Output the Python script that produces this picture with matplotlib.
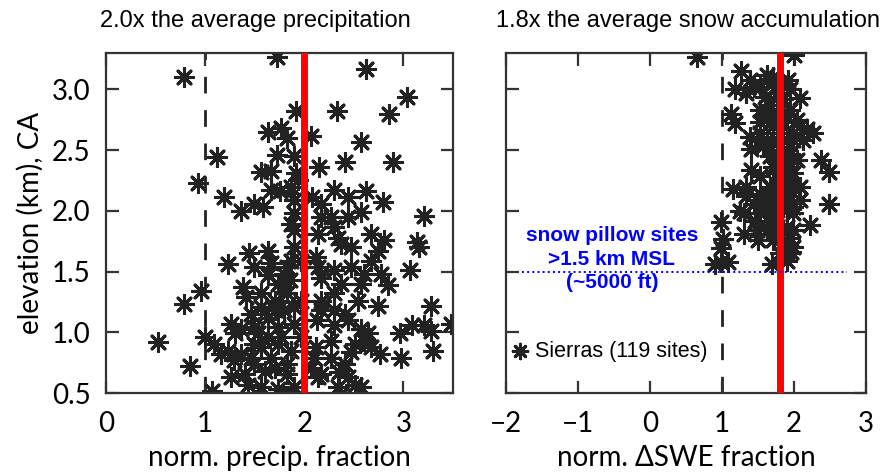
import matplotlib
matplotlib.use("Agg")
import matplotlib.pyplot as plt

# -------------------------------
# DATA
# -------------------------------
# left panel: normalised precipitation fraction vs station elevation (km)
precip_x = [
    1.72, 0.79, 2.62, 3.04, 2.33, 2.85, 1.92, 2.07, 1.63, 1.76, 1.83, 2.57,
    1.12, 1.72, 1.90, 2.41, 2.89, 2.15, 0.93, 1.56, 1.66, 1.92, 1.66, 1.75,
    1.19, 1.36, 1.49, 1.58, 2.30, 2.44, 2.62, 2.57, 2.79, 3.21, 2.08, 2.17,
    1.90, 1.87, 2.30, 2.67, 2.80, 3.14, 3.16, 2.74, 2.14, 2.37, 1.90, 2.12,
    1.63, 1.44, 1.23, 1.49, 3.07, 1.83, 1.80, 2.14, 2.30, 2.47, 2.77, 1.63,
    1.86, 2.17, 2.37, 2.57, 2.84, 1.38, 1.41, 1.56, 0.96, 0.79, 1.70, 1.83,
    1.97, 2.54, 2.74, 3.28, 1.80, 1.63, 2.17, 2.30, 2.41, 3.48, 1.26, 1.36,
    1.49, 1.73, 1.90, 2.13, 2.30, 2.44, 2.57, 2.64, 3.09, 3.21, 2.96, 3.28,
    0.52, 1.00, 1.09, 1.23, 1.36, 1.56, 1.73, 1.87, 2.12, 2.27, 2.51, 2.47,
    2.67, 2.76, 3.30, 2.98, 0.85, 1.29, 1.49, 1.70, 1.83, 2.07, 2.17, 2.35,
    1.26, 1.43, 1.56, 1.73, 1.77, 1.90, 1.07, 2.34, 2.37, 2.51, 2.57, 2.44,
    2.14, 2.60, 1.90, 1.87, 1.94, 1.90, 1.87, 1.97, 1.80, 1.90, 1.76, 1.97,
    1.63, 1.49, 1.60, 1.83, 1.40, 2.17, 2.27, 2.44, 2.34, 2.47, 2.67, 2.60,
    2.30, 2.17, 2.10, 2.27, 2.41, 1.70, 1.56, 1.46, 1.30, 1.16, 1.46, 1.66,
    1.53, 1.73, 1.66,
]
precip_elev = [
    3.27, 3.10, 3.17, 2.94, 2.82, 2.80, 2.82, 2.62, 2.65, 2.68, 2.60, 2.57,
    2.44, 2.46, 2.45, 2.40, 2.40, 2.36, 2.23, 2.32, 2.33, 2.31, 2.17, 2.16,
    2.11, 2.00, 2.06, 2.03, 2.17, 2.11, 2.16, 1.99, 2.07, 1.96, 2.11, 2.06,
    1.98, 1.89, 1.87, 1.81, 1.76, 1.74, 1.70, 1.67, 1.81, 1.73, 1.70, 1.62,
    1.67, 1.65, 1.56, 1.54, 1.51, 1.54, 1.48, 1.54, 1.51, 1.54, 1.48, 1.47,
    1.43, 1.45, 1.40, 1.40, 1.39, 1.37, 1.29, 1.32, 1.34, 1.23, 1.26, 1.32,
    1.26, 1.26, 1.22, 1.22, 1.18, 1.12, 1.18, 1.18, 1.15, 1.07, 1.07, 1.03,
    1.04, 1.04, 1.07, 1.10, 1.06, 1.10, 1.03, 0.99, 1.06, 1.06, 0.99, 1.01,
    0.92, 0.96, 0.90, 0.85, 0.82, 0.88, 0.90, 0.85, 0.88, 0.93, 0.90, 0.84,
    0.88, 0.82, 0.85, 0.79, 0.72, 0.77, 0.74, 0.71, 0.74, 0.71, 0.66, 0.67,
    0.63, 0.57, 0.55, 0.53, 0.49, 0.55, 0.52, 0.55, 0.49, 0.57, 0.55, 0.63,
    0.63, 0.93, 2.09, 2.20, 2.25, 1.84, 1.59, 1.59, 1.37, 1.21, 0.96, 0.96,
    0.96, 0.90, 0.68, 0.66, 0.66, 1.95, 1.95, 1.95, 1.78, 1.70, 1.59, 1.48,
    1.32, 1.26, 0.79, 0.79, 0.74, 1.18, 1.21, 1.15, 0.99, 0.82, 0.79, 0.79,
    0.99, 1.40, 1.57,
]

# right panel: normalised delta-SWE fraction at snow pillow sites
swe_x = [
    0.65, 2.00, 1.27, 1.39, 1.62, 1.71, 1.92, 1.18, 1.34, 1.53, 1.94, 2.08,
    1.13, 1.18, 1.53, 1.67, 1.94, 1.53, 1.71, 2.04, 2.18, 2.27, 2.38, 2.48,
    1.41, 1.39, 1.90, 1.94, 1.67, 1.71, 1.41, 1.53, 1.90, 1.99, 1.16, 1.34,
    1.53, 1.71, 1.85, 2.48, 1.25, 1.44, 1.62, 1.90, 1.99, 0.99, 1.46, 1.71,
    2.22, 1.30, 1.01, 1.50, 1.76, 1.94, 0.99, 1.96, 1.81, 0.99, 0.90, 1.08,
    1.69, 1.90, 1.71, 1.80, 1.80, 1.90, 1.62, 1.57, 1.71, 1.85, 1.94, 1.99,
    1.76, 1.67, 1.99, 1.85, 1.62, 1.34, 1.50, 2.08, 1.76, 1.85, 1.60, 1.44,
    1.71, 1.85, 2.08, 1.99, 1.80, 1.90, 1.67, 1.71, 1.48, 2.08, 2.13, 2.04,
    1.53, 1.62, 1.94, 1.76, 1.71, 1.57, 1.85, 1.76, 1.99, 1.90, 1.53, 1.76,
    1.90, 1.80, 1.71, 1.99, 1.99, 1.30, 1.64, 1.78,
]
swe_elev = [
    3.27, 3.28, 3.15, 3.08, 3.12, 3.05, 3.08, 3.00, 2.97, 3.02, 3.00, 2.93,
    2.80, 2.72, 2.83, 2.87, 2.83, 2.73, 2.78, 2.75, 2.67, 2.64, 2.42, 2.32,
    2.51, 2.61, 2.58, 2.47, 2.45, 2.36, 2.34, 2.29, 2.34, 2.20, 2.18, 2.12,
    2.14, 2.17, 2.12, 2.06, 2.00, 2.06, 2.03, 2.03, 1.98, 1.91, 1.92, 1.95,
    1.88, 1.81, 1.77, 1.76, 1.81, 1.78, 1.69, 1.66, 1.65, 1.58, 1.56, 1.58,
    1.56, 1.59, 2.09, 2.64, 2.26, 1.87, 2.58, 2.53, 2.56, 2.50, 2.12, 2.31,
    2.01, 1.92, 1.84, 1.73, 1.84, 2.20, 2.09, 2.09, 2.97, 2.92, 2.94, 3.02,
    2.70, 2.73, 2.70, 2.64, 2.42, 2.26, 2.20, 1.76, 1.84, 2.20, 2.58, 2.42,
    2.64, 2.78, 2.39, 2.31, 2.47, 2.06, 2.06, 1.87, 1.70, 1.65, 1.98, 2.80,
    2.78, 3.05, 3.10, 2.58, 2.03, 1.98, 2.12, 2.17,
]

precip_mean = 2.0   # red line, left
swe_mean = 1.8      # red line, right
normal_line = 1.0   # dashed line (= average year)
pillow_min_elev = 1.5

# -------------------------------
# FIGURE
# -------------------------------
fig = plt.figure(figsize=(8.88, 4.75), dpi=100)
ax1 = fig.add_axes([0.1194, 0.1726, 0.3908, 0.716])
ax2 = fig.add_axes([0.5698, 0.1726, 0.4054, 0.716])

star = (8, 2, 0)
dark = "#222222"
tick_font = "Lato"
tick_size = 20
marker_size = 170
marker_lw = 2.2

for ax in (ax1, ax2):
    ax.set_ylim(0.5, 3.3)
    for s in ax.spines.values():
        s.set_linewidth(1.6)
        s.set_color("#333333")
    ax.tick_params(direction="in", length=9, width=1.6, color="#333333",
                   top=True, right=True, labelsize=tick_size)
    ax.tick_params(axis="x", pad=13)
    ax.tick_params(axis="y", pad=11)

# left panel
ax1.set_xlim(0, 3.5)
ax1.set_xticks([0, 1, 2, 3])
ax1.set_yticks([0.5, 1.0, 1.5, 2.0, 2.5, 3.0])
ax1.set_yticklabels(["0.5", "1.0", "1.5", "2.0", "2.5", "3.0"], fontfamily=tick_font)
ax1.set_xticklabels(["0", "1", "2", "3"], fontfamily=tick_font)
ax1.axvline(normal_line, color=dark, lw=2, ls=(0, (6, 6)), zorder=1)
ax1.scatter(precip_x, precip_elev, marker=star, s=marker_size, color=dark,
            linewidths=marker_lw, zorder=2)
ax1.axvline(precip_mean, color="red", lw=5, zorder=3)
ax1.set_xlabel("norm. precip. fraction", fontsize=tick_size, fontfamily=tick_font, labelpad=6)
ax1.set_ylabel("elevation (km), CA", fontsize=tick_size, fontfamily=tick_font, labelpad=6)

# right panel
ax2.set_xlim(-2, 3)
ax2.set_xticks([-2, -1, 0, 1, 2, 3])
ax2.set_xticklabels(["\u22122", "\u22121", "0", "1", "2", "3"], fontfamily=tick_font)
ax2.set_yticks([0.5, 1.0, 1.5, 2.0, 2.5, 3.0])
ax2.tick_params(labelleft=False)
ax2.axvline(normal_line, color=dark, lw=2, ls=(0, (6, 6)), zorder=1)
ax2.scatter(swe_x, swe_elev, marker=star, s=marker_size, color=dark,
            linewidths=marker_lw, zorder=2, label="Sierras (119 sites)")
ax2.axvline(swe_mean, color="red", lw=5, zorder=3)
ax2.plot([-1.78, 2.74], [pillow_min_elev, pillow_min_elev], color="blue", lw=1.4, ls=":", zorder=4)
ax2.text(-0.53, 1.60, "snow pillow sites\n>1.5 km MSL\n(~5000 ft)", color="blue",
         fontsize=15, fontweight="bold", fontfamily="Liberation Sans",
         ha="center", va="center", linespacing=1.3, zorder=5)
ax2.set_xlabel("norm. \u0394SWE fraction", fontsize=tick_size, fontfamily=tick_font, labelpad=6)
ax2.legend(loc="lower left", bbox_to_anchor=(-0.05, 0.035), frameon=False,
           handlelength=1.2, handletextpad=0.1, markerscale=0.8,
           prop={"family": "Liberation Sans", "size": 15.5})

# titles
fig.text(0.288, 0.955, "2.0x the average precipitation", ha="center", va="center",
         fontsize=17, fontfamily="Liberation Sans")
fig.text(0.775, 0.955, "1.8x the average snow accumulation", ha="center", va="center",
         fontsize=17, fontfamily="Liberation Sans")

fig.savefig("out.png", dpi=100)
